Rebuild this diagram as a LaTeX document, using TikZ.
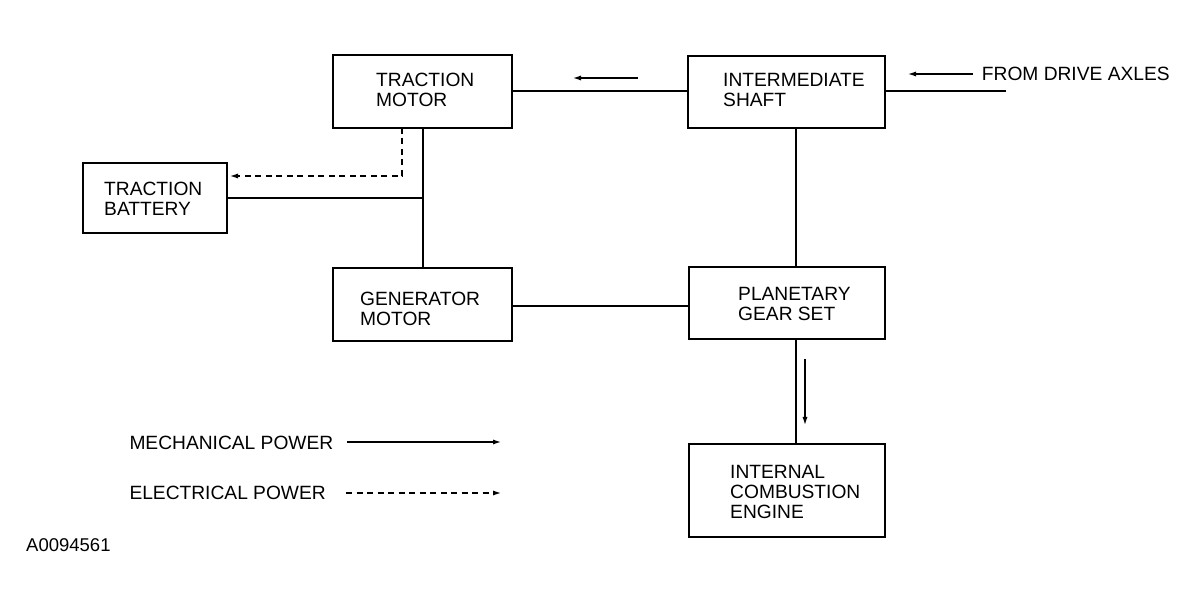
\documentclass[tikz,border=0pt]{standalone}
\usepackage{fontspec}
\setmainfont{Liberation Sans}
\usetikzlibrary{arrows.meta}
\newcommand\lbfont{\fontsize{19.2pt}{20pt}\selectfont}
\newcommand\idfont{\fontsize{18.5pt}{20pt}\selectfont}
\tikzset{
  box/.style={draw, line width=2.4pt, inner sep=0pt, outer sep=0pt},
  lbl/.style={font=\lbfont, align=left, inner sep=0pt, anchor=west},
  conn/.style={line width=2pt},
  flow/.style={line width=2pt, -{Latex[length=9pt,width=5pt]}},
  eflow/.style={flow, dash pattern=on 6pt off 4.5pt},
}
\begin{document}
\begin{tikzpicture}[x=1pt,y=-1pt]
\fill[white] (0,0) rectangle (1200,601);
\useasboundingbox (0,0) rectangle (1200,601);

% boxes
\node[box, minimum width=179pt, minimum height=73pt] (tm)  at (422.5,91.5) {};
\node[box, minimum width=197pt, minimum height=72pt] (is)  at (786.5,92) {};
\node[box, minimum width=144pt, minimum height=70pt] (bat) at (155,198) {};
\node[box, minimum width=179pt, minimum height=73pt] (gm)  at (422.5,304.5) {};
\node[box, minimum width=196pt, minimum height=72pt] (pgs) at (787,303) {};
\node[box, minimum width=196pt, minimum height=93pt] (ice) at (787,490.5) {};

% box texts
\node[lbl] (tmt)  at (376,90)    {TRACTION\\MOTOR};
\node[lbl] (ist)  at (723,90.3)  {INTERMEDIATE\\SHAFT};
\node[lbl] (batt) at (104,198.5) {TRACTION\\BATTERY};
\node[lbl] (gmt)  at (360,308.5) {GENERATOR\\MOTOR};
\node[lbl] (pgst) at (738,304)   {PLANETARY\\GEAR SET};
\node[lbl] (icet) at (730,491.7) {INTERNAL\\COMBUSTION\\ENGINE};

% other texts
\node[lbl] (from) at (981.7,74.3) {FROM DRIVE AXLES};
\node[lbl] (mech) at (129.3,442.7) {MECHANICAL POWER};
\node[lbl] (elec) at (129.3,493) {ELECTRICAL POWER};
\node[lbl, font=\idfont] (code) at (26,545) {A0094561};

% helper coordinates (pixel-aligned rails)
\coordinate (rowtop) at (0,91);
\coordinate (rowgm) at (0,306);
\coordinate (coltm) at (423,0);
\coordinate (coldot) at (402,0);
\coordinate (rowdot) at (0,176);
\coordinate (shaft) at (796,0);
\coordinate (dax) at (1006,91);
\coordinate (a1s) at (638,78);
\coordinate (a1e) at (572,78);
\coordinate (a2s) at (973,74);
\coordinate (a2e) at (907,74);
\coordinate (a3s) at (805,359);
\coordinate (a3e) at (805,426);
\coordinate (m1) at (347,442);
\coordinate (m2) at (502,442);
\coordinate (e1) at (346,493);
\coordinate (e2) at (502,493);

% connectors
\draw[conn] (tm.east |- rowtop) -- (is.west |- rowtop);
\draw[conn] (is.east |- rowtop) -- (dax);
\draw[conn] (is.south -| shaft) -- (pgs.north -| shaft);
\draw[conn] (pgs.south -| shaft) -- (ice.north -| shaft);
\draw[conn] (gm.east |- rowgm) -- (pgs.west |- rowgm);
\draw[conn] (tm.south -| coltm) -- (gm.north -| coltm);
\draw[conn] (bat.east) -- (bat.east -| coltm);
\draw[eflow, shorten >=2pt] (tm.south -| coldot) |- (bat.east |- rowdot);

% flow arrows
\draw[flow] (a1s) -- (a1e);
\draw[flow] (a2s) -- (a2e);
\draw[flow] (a3s) -- (a3e);
\draw[flow] (m1) -- (m2);
\draw[eflow] (e1) -- (e2);
\end{tikzpicture}
\end{document}
